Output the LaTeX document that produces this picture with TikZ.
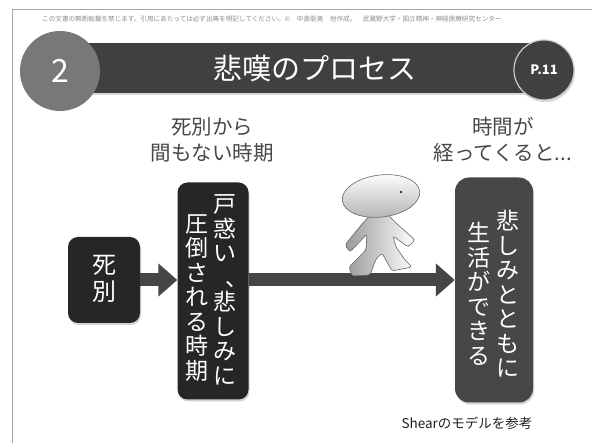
\documentclass[tikz,border=0pt]{standalone}
\usepackage{fontspec}
\newfontfamily\jp{Noto Sans CJK JP}
\usetikzlibrary{arrows.meta,shadows}
% vertical comma: sits to the right of its cell
\newcommand\tcomma{\makebox[1em][l]{\kern.5em\rlap{、}}}

\tikzset{
	tatebox/.style={rounded corners=10pt, inner sep=0pt, drop shadow={opacity=0.35, shadow xshift=1pt, shadow yshift=-2pt}},
	tatetext/.style={text=white, align=center, inner sep=0pt, font=\jp\fontsize{23}{24.5}\selectfont},
	fatarrow/.style={line width=13pt, color=black!73, -{Triangle[width=32pt,length=19pt]}},
	label/.style={text=black!72, align=center, inner sep=0pt, font=\jp\fontsize{20.5}{26}\selectfont},
}

\begin{document}
\begin{tikzpicture}[x=1pt, y=-1pt]
			%%%%% START %%%%%
			\useasboundingbox (0, 0) rectangle (592, 443);
			
			\draw[line width=0.8pt, color=black!35] (12, 443) -- (12, 9) -- (592, 9);
			\node[anchor=west, text=black!45, inner sep=0pt, font=\jp\fontsize{6.6}{7}\selectfont] (notice) at (42, 19)
				{この文書の無断転載を禁じます。引用にあたっては必ず出典を明記してください。©\quad 中島聡美\quad 他作成。\quad 武蔵野大学・国立精神・神経医療研究センター};
			
			% title band
			\draw[fill=black!75, draw=none, drop shadow={opacity=0.3, shadow xshift=1pt, shadow yshift=-2pt}] (88, 43) rectangle (530, 93);
			\node[circle, fill=black!53, minimum size=80pt, inner sep=0pt, text=white, font=\jp\fontsize{32}{36}\selectfont] (num) at (60, 71) {2};
			\node[text=white, inner sep=0pt, font=\jp\fontsize{29}{34}\selectfont] (title) at (315, 69) {悲嘆のプロセス};
			\node[circle, fill=black!75, draw=white!80!black, line width=1.2pt, minimum size=60pt, inner sep=0pt, text=white, font=\jp\bfseries\fontsize{13}{15}\selectfont, drop shadow={opacity=0.3, shadow xshift=1pt, shadow yshift=-2pt}] (page) at (544, 70) {P.11};
			
			\node[label] (early) at (212, 140) {死別から\\間もない時期};
			\node[label] (later) at (503, 140) {時間が\\経ってくると...};
			
			% boxes
			\node[tatebox, fill=black!85, minimum width=72pt, minimum height=86pt] (shibetsu) at (104, 280) {};
			\node[tatebox, fill=black!85, minimum width=71pt, minimum height=217pt] (konwaku) at (213, 291) {};
			\node[tatebox, fill=black!72, minimum width=78pt, minimum height=225pt, rounded corners=14pt] (seikatsu) at (494, 290) {};
			
			\node[tatetext, font=\jp\fontsize{24}{27}\selectfont] (shibetsutext) at (104, 279) {死\\別};
			\node[tatetext] (konwakuR) at (225, 290) {戸\\惑\\い\\\tcomma\\悲\\し\\み\\に};
			\node[tatetext] (konwakuL) at (197, 298) {圧\\倒\\さ\\れ\\る\\時\\期};
			\node[tatetext] (seikatsuR) at (508, 294) {悲\\し\\み\\と\\と\\も\\に};
			\node[tatetext] (seikatsuL) at (479, 294) {生\\活\\が\\で\\き\\る};
			
			% arrows
			\draw[fatarrow] (shibetsu.east) -- (shibetsu.east -| konwaku.west);
			\draw[fatarrow] (konwaku.east |- shibetsu.east) -- (seikatsu.west |- shibetsu.east);
			
			% walking figure
			\shadedraw[left color=black!40, right color=white, draw=black!60, line width=0.6pt, rounded corners=2.5pt]
				(372, 213) -- (362, 224) -- (345, 245) -- (350, 252) -- (367, 234) -- (366, 250)
				-- (349, 267) -- (352, 276) -- (370, 275) -- (376, 259) -- (382, 253) -- (392, 271)
				-- (412, 267) -- (405, 260) -- (396, 247) -- (393, 236) -- (408, 247) -- (415, 240)
				-- (397, 224) -- (390, 217) -- (387, 212) -- cycle;
			\begin{scope}[shift={(381, 196)}, rotate=7]
				\shadedraw[top color=white, bottom color=black!30, draw=black!60, line width=0.6pt] (0, 0) ellipse [x radius=39pt, y radius=21pt];
			\end{scope}
			\fill[black!80] (401, 192) circle (1.3pt);
			
			\node[text=black!88, inner sep=0pt, font=\jp\fontsize{13.5}{16}\selectfont] (source) at (467, 423) {Shearのモデルを参考};
			
			%%%%% END %%%%%
\end{tikzpicture}
\end{document}
